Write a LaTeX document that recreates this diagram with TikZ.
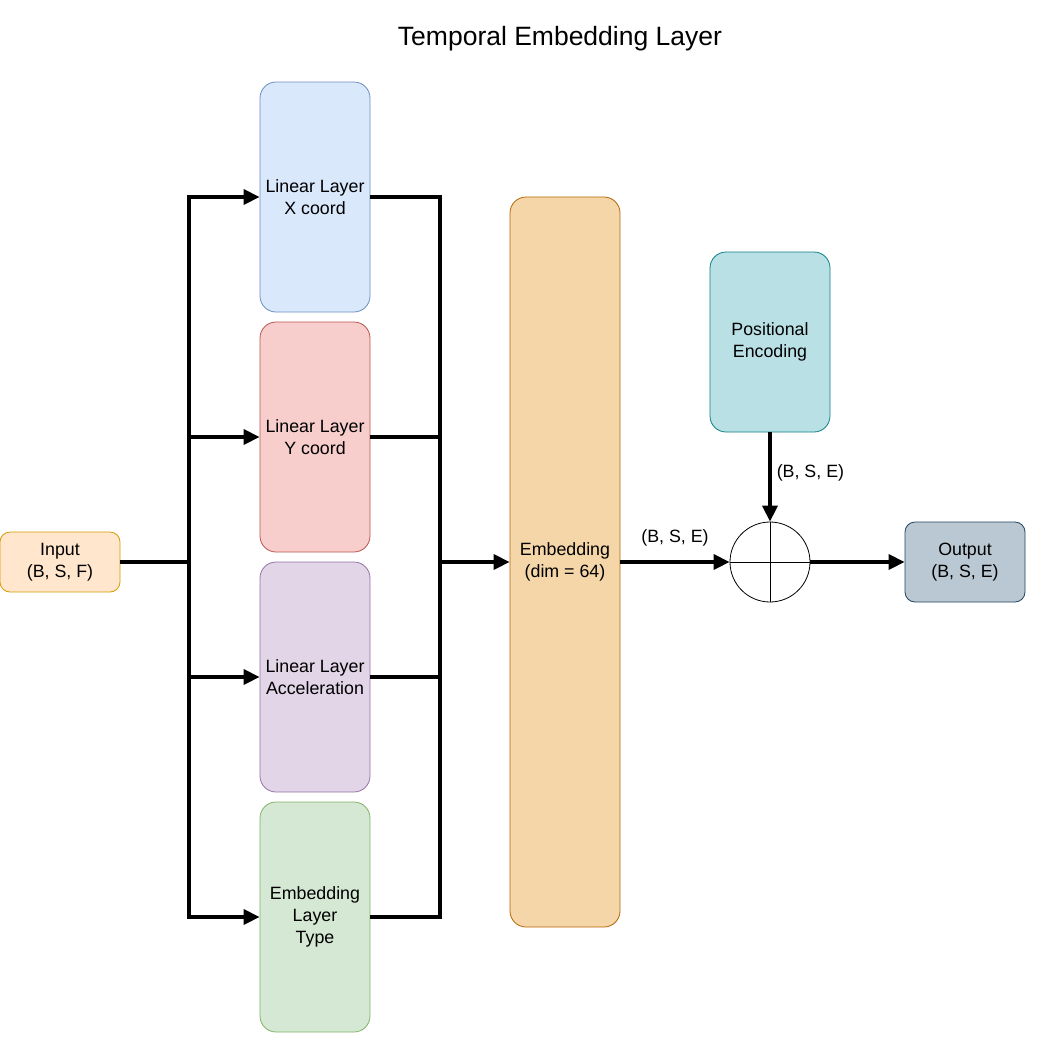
\documentclass[tikz,border=0pt]{standalone}
\usepackage{fontspec}
\setmainfont{Liberation Sans}
\usetikzlibrary{arrows.meta}
\definecolor{bluefill}{HTML}{DAE8FC}\definecolor{bluedraw}{HTML}{6C8EBF}
\definecolor{redfill}{HTML}{F8CECC}\definecolor{reddraw}{HTML}{B85450}
\definecolor{purpfill}{HTML}{E1D5E7}\definecolor{purpdraw}{HTML}{9673A6}
\definecolor{greenfill}{HTML}{D5E8D4}\definecolor{greendraw}{HTML}{82B366}
\definecolor{inpfill}{HTML}{FFE6CC}\definecolor{inpdraw}{HTML}{D79B00}
\definecolor{embfill}{HTML}{F5D6A9}\definecolor{embdraw}{HTML}{B46504}
\definecolor{tealfill}{HTML}{B9E0E4}\definecolor{tealdraw}{HTML}{0E8088}
\definecolor{outfill}{HTML}{BAC8D3}\definecolor{outdraw}{HTML}{23445D}
\begin{document}
\begin{tikzpicture}[x=1pt,y=-1pt,
  every node/.style={font=\fontsize{17.8}{22}\selectfont, align=center, inner sep=0pt},
  boxstyle/.style={draw, rounded corners=16pt, line width=0.8pt, minimum width=110pt, minimum height=230pt},
  conn/.style={line width=3.6pt, line cap=butt, line join=miter},
  arr/.style={conn, -{Triangle[length=16pt,width=15pt]}},
  ]
\useasboundingbox (0,0) rectangle (1053,1042);
\node (title) at (560,39) {\fontsize{26.5}{30}\selectfont Temporal Embedding Layer};
\node[draw=inpdraw, fill=inpfill, rounded corners=10pt, line width=0.8pt, minimum width=120pt, minimum height=60pt] (inp) at (60,562) {Input\\(B, S, F)};
\node[boxstyle, draw=bluedraw, fill=bluefill] (b1) at (315,197) {Linear Layer\\X coord};
\node[boxstyle, draw=reddraw, fill=redfill] (b2) at (315,437) {Linear Layer\\Y coord};
\node[boxstyle, draw=purpdraw, fill=purpfill] (b3) at (315,677) {Linear Layer\\Acceleration};
\node[boxstyle, draw=greendraw, fill=greenfill] (b4) at (315,917) {Embedding\\Layer\\Type};
\node[draw=embdraw, fill=embfill, rounded corners=16pt, line width=0.8pt, minimum width=110pt, minimum height=730pt] (emb) at (565,562) {Embedding\\(dim = 64)};
\node[draw=tealdraw, fill=tealfill, rounded corners=16pt, line width=0.8pt, minimum width=120pt, minimum height=180pt] (pe) at (770,342) {Positional\\Encoding};
\node[draw, circle, line width=0.8pt, minimum size=80pt] (sum) at (770,562) {};
\draw[line width=0.8pt] (sum.north) -- (sum.south) (sum.west) -- (sum.east);
\node[draw=outdraw, fill=outfill, rounded corners=10pt, line width=0.8pt, minimum width=120pt, minimum height=80pt] (out) at (965,562) {Output\\(B, S, E)};
\coordinate (sp) at (189,562);
\coordinate (mg) at (440,562);
\draw[conn] (inp.east) -- (sp);
\draw[conn] (189,195.2) -- (189,918.8);
\draw[arr] (189,197) -- (b1.west);
\draw[arr] (189,437) -- (b2.west);
\draw[arr] (189,677) -- (b3.west);
\draw[arr] (189,917) -- (b4.west);
\draw[conn] (b1.east) -- (440,197);
\draw[conn] (b2.east) -- (440,437);
\draw[conn] (b3.east) -- (440,677);
\draw[conn] (b4.east) -- (440,917);
\draw[conn] (440,195.2) -- (440,918.8);
\draw[arr] (mg) -- (emb.west);
\draw[arr] (emb.east) -- node[above=14pt] {(B, S, E)} (sum.west);
\draw[arr] (pe.south) -- node[right=5pt, pos=0.45] {(B, S, E)} (sum.north);
\draw[arr] (sum.east) -- (out.west);
\end{tikzpicture}
\end{document}
